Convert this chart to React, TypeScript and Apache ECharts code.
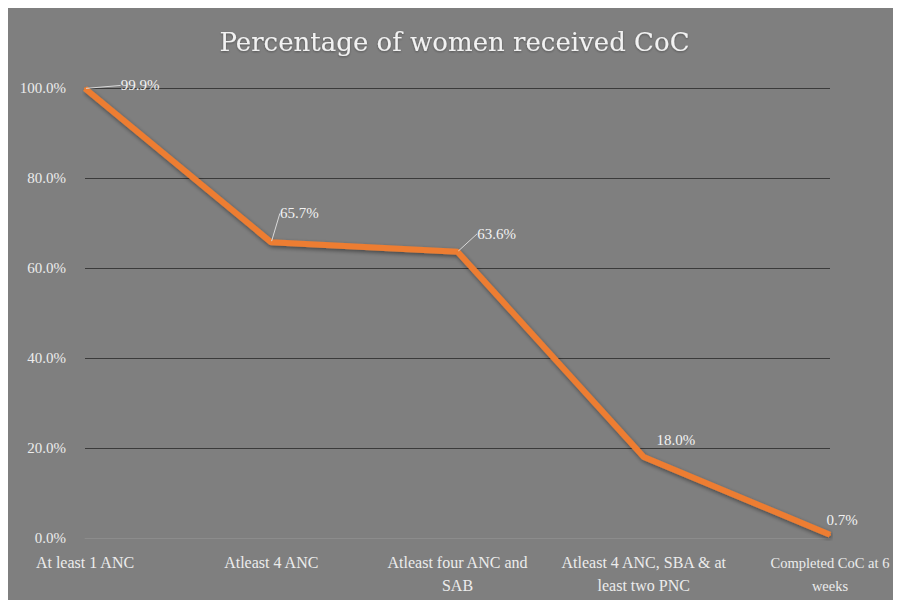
import React, { useEffect, useRef } from "react";
import * as echarts from "echarts";

const categories = [
  "At least 1 ANC",
  "Atleast 4 ANC",
  "Atleast four ANC and SAB",
  "Atleast 4 ANC, SBA & at least two PNC",
  "Completed CoC at 6 weeks",
];
const tickLabels = [
  "At least 1 ANC",
  "Atleast 4 ANC",
  "Atleast four ANC and\nSAB",
  "Atleast 4 ANC, SBA & at\nleast two PNC",
  "Completed CoC at 6\nweeks",
];
const values = [99.9, 65.7, 63.6, 18.0, 0.7];
const yTicks = { min: 0, max: 100, interval: 20 };
const titleText = "Percentage of women received CoC";

// label placement (style), offsets from the point in pixels
const labelOffsets = [
  [55, -3],
  [28, -29],
  [39, -18],
  [32, -17],
  [12, -15],
];
const showGuide = [true, true, true, false, false];

const FONT = "'Liberation Serif', 'DejaVu Serif', serif";

export default function App() {
  const ref = useRef<HTMLDivElement>(null);
  useEffect(() => {
    if (!ref.current) return;
    document.body.style.overflow = "hidden";
    const chart = echarts.init(ref.current, null, { renderer: "svg" });
    chart.setOption({
      animation: false,
      backgroundColor: "#7f7f7f",
      title: {
        text: titleText,
        left: "center",
        top: 16,
        textStyle: {
          fontFamily: "'DejaVu Serif', serif",
          fontSize: 26,
          fontWeight: "normal",
          color: "#f2f2f2",
          textShadowColor: "rgba(0,0,0,0.35)",
          textShadowBlur: 2,
          textShadowOffsetY: 1,
        },
      },
      grid: {
        left: 77,
        right: 71,
        top: 80,
        bottom: 62,
        containLabel: false,
        outerBoundsMode: "none",
      },
      xAxis: {
        type: "category",
        data: categories,
        boundaryGap: false,
        axisLine: { show: true, lineStyle: { color: "#8c8c8c", width: 1 } },
        axisTick: { show: false },
        axisLabel: {
          color: "#ececec",
          fontFamily: FONT,
          fontSize: 16,
          margin: 13,
          lineHeight: 23,
          interval: 0,
          formatter: (_v: string, i: number) =>
            i === tickLabels.length - 1
              ? tickLabels[i]
                  .split("\n")
                  .map((s) => "{e|" + s + "}")
                  .join("\n")
              : tickLabels[i],
          rich: {
            e: {
              color: "#ececec",
              fontFamily: FONT,
              fontSize: 14.5,
              lineHeight: 23,
            },
          },
        },
        splitLine: { show: false },
      },
      yAxis: {
        type: "value",
        min: yTicks.min,
        max: yTicks.max,
        interval: yTicks.interval,
        axisLine: { show: false },
        axisTick: { show: false },
        axisLabel: {
          color: "#ececec",
          fontFamily: FONT,
          fontSize: 15,
          margin: 19,
          formatter: (v: number) => v.toFixed(1) + "%",
        },
        splitLine: { show: true, lineStyle: { color: "#3a3a3a", width: 1 } },
      },
      series: [
        {
          type: "line",
          data: values.map((v, i) => ({
            value: v,
            labelLine: { show: showGuide[i] },
          })),
          symbol: "circle",
          symbolSize: 2,
          showSymbol: true,
          itemStyle: { color: "#ED7D31" },
          lineStyle: {
            color: "#ED7D31",
            width: 6,
            shadowColor: "rgba(0,0,0,0.45)",
            shadowBlur: 4,
            shadowOffsetX: 1,
            shadowOffsetY: 2,
          },
          label: {
            show: true,
            position: "inside",
            color: "#f2f2f2",
            fontFamily: FONT,
            fontSize: 15,
            formatter: (p: any) => Number(p.value).toFixed(1) + "%",
          },
          labelLine: {
            show: true,
            lineStyle: { color: "#d9d9d9", width: 1 },
          },
          labelLayout: (p: any) => ({
            dx: labelOffsets[p.dataIndex][0],
            dy: labelOffsets[p.dataIndex][1],
          }),
        },
      ],
    });
    return () => chart.dispose();
  }, []);
  return <div ref={ref} style={{ width: 893, height: 592 }} />;
}
